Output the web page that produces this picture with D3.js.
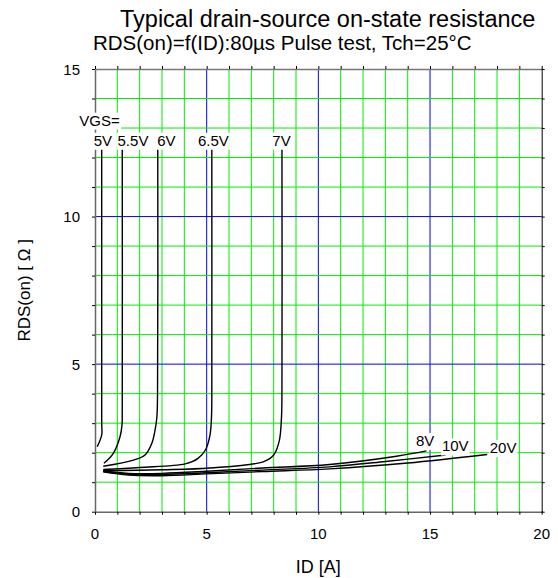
<!DOCTYPE html>
<html>
<head>
<meta charset="utf-8">
<script src="https://cdnjs.cloudflare.com/ajax/libs/d3/7.8.5/d3.min.js"></script>
<style>
  body { margin: 0; background: #fff; }
  text { font-family: "Liberation Sans", Arial, sans-serif; fill: #000; }
</style>
</head>
<body>
<svg id="chart" width="558" height="578"></svg>
<script>
// axis ranges / ticks
var xDomain = [0, 20];
var yDomain = [0, 15];
var xTickValues = [0, 5, 10, 15, 20];
var yTickValues = [0, 5, 10, 15];

// RDS(on) vs ID curves, one per VGS  [ID (A), RDS (ohm)]
var vgs5V   = [[0.1, 2.2], [0.3, 2.6], [0.3, 3.0], [0.3, 12.5]];
var vgs5_5V = [[0.4, 1.64], [0.82, 1.98], [1.12, 2.54], [1.21, 2.94], [1.22, 3.4], [1.22, 12.5]];
var vgs6V   = [[0.37, 1.54], [1.72, 1.75], [2.24, 1.92], [2.54, 2.31], [2.69, 2.77], [2.77, 3.2], [2.8, 4.0], [2.81, 12.5]];
var vgs6_5V = [[0.37, 1.43], [2.0, 1.5], [4.04, 1.62], [4.6, 1.8], [4.95, 2.1], [5.15, 2.6], [5.22, 3.3], [5.23, 4.2], [5.23, 12.5]];
var vgs7V   = [[0.37, 1.39], [3.0, 1.42], [5.15, 1.48], [7.53, 1.69], [8.0, 1.92], [8.25, 2.4], [8.35, 3.2], [8.37, 4.2], [8.37, 12.5]];
var vgs8V   = [[0.37, 1.38], [1.5, 1.3], [3.0, 1.3], [5.0, 1.37], [7.5, 1.48], [10.5, 1.6], [13.5, 1.88], [14.84, 2.06]];
var vgs10V  = [[0.37, 1.36], [1.5, 1.27], [3.0, 1.26], [5.0, 1.32], [7.5, 1.41], [10.5, 1.52], [13.0, 1.7], [15.7, 1.92]];
var vgs20V  = [[0.37, 1.35], [1.5, 1.24], [3.0, 1.22], [5.0, 1.28], [7.5, 1.36], [10.5, 1.45], [14.0, 1.65], [17.56, 1.94]];

var vgsNames = ['5V', '5.5V', '6V', '6.5V', '7V', '8V', '10V', '20V'];
var curves = [vgs5V, vgs5_5V, vgs6V, vgs6_5V, vgs7V, vgs8V, vgs10V, vgs20V];

var titleText = 'Typical drain-source on-state resistance';
var subtitleText = 'RDS(on)=f(ID):80\u00b5s Pulse test, Tch=25\u00b0C';
var xLabelText = 'ID [A]';
var yLabelText = 'RDS(on) [ \u03a9 ]';

// label placement (data coords) for each curve name
var labelAt = {
    '5V': [0.35, 12.4], '5.5V': [1.7, 12.4], '6V': [3.2, 12.4],
    '6.5V': [5.3, 12.4], '7V': [8.35, 12.4],
    '8V': [14.78, 2.23], '10V': [16.13, 2.04], '20V': [18.27, 1.98]
};

var svg = d3.select('#chart');
var pLeft = 95, pRight = 541.7, pTop = 69, pBottom = 511.7;

var x = d3.scaleLinear().domain(xDomain).range([pLeft, pRight]);
var y = d3.scaleLinear().domain(yDomain).range([pBottom, pTop]);

// grid
var xGrid = d3.range(xDomain[0] + 1, xDomain[1]);
var yGrid = d3.range(yDomain[0] + 1, yDomain[1]);
var g = svg.append('g');
g.selectAll('.vgrid').data(xGrid).enter().append('line')
    .attr('x1', function (d) { return x(d); }).attr('x2', function (d) { return x(d); })
    .attr('y1', pTop).attr('y2', pBottom)
    .attr('stroke', function (d) { return d % 5 === 0 ? '#0000ff' : '#00ee00'; })
    .attr('stroke-width', 1);
g.selectAll('.hgrid').data(yGrid).enter().append('line')
    .attr('y1', function (d) { return y(d); }).attr('y2', function (d) { return y(d); })
    .attr('x1', pLeft).attr('x2', pRight)
    .attr('stroke', function (d) { return d % 5 === 0 ? '#0000ff' : '#00ee00'; })
    .attr('stroke-width', 1);

// frame with small outward ticks on every grid line
var allX = d3.range(xDomain[0], xDomain[1] + 1);
var allY = d3.range(yDomain[0], yDomain[1] + 1);
svg.append('g').attr('transform', 'translate(0,' + pBottom + ')')
    .call(d3.axisBottom(x).tickValues(allX).tickSize(3).tickSizeOuter(0).tickFormat(''))
    .call(function (a) { a.select('.domain').attr('stroke', '#666').attr('stroke-width', 1.5); });
svg.append('g').attr('transform', 'translate(0,' + pTop + ')')
    .call(d3.axisTop(x).tickValues(allX).tickSize(3).tickSizeOuter(0).tickFormat(''))
    .call(function (a) { a.select('.domain').attr('stroke', '#777').attr('stroke-width', 1.5); });
svg.append('g').attr('transform', 'translate(' + pLeft + ',0)')
    .call(d3.axisLeft(y).tickValues(allY).tickSize(3).tickSizeOuter(0).tickFormat(''))
    .call(function (a) { a.select('.domain').attr('stroke', '#666').attr('stroke-width', 1.5); });
svg.append('g').attr('transform', 'translate(' + pRight + ',0)')
    .call(d3.axisRight(y).tickValues(allY).tickSize(3).tickSizeOuter(0).tickFormat(''))
    .call(function (a) { a.select('.domain').attr('stroke', '#000'); });

// tick labels
svg.selectAll('.xl').data(xTickValues).enter().append('text')
    .attr('x', function (d) { return x(d); }).attr('y', 539)
    .attr('text-anchor', 'middle').attr('font-size', 15)
    .text(function (d) { return d; });
svg.selectAll('.yl').data(yTickValues).enter().append('text')
    .attr('x', 80).attr('y', function (d) { return y(d) + 5.5; })
    .attr('text-anchor', 'end').attr('font-size', 15)
    .text(function (d) { return d; });

// curves
var line = d3.line()
    .x(function (d) { return x(d[0]); })
    .y(function (d) { return y(d[1]); })
    .curve(d3.curveCatmullRom.alpha(0.5));
svg.selectAll('.curve').data(curves).enter().append('path')
    .attr('d', line)
    .attr('fill', 'none')
    .attr('stroke', '#000')
    .attr('stroke-width', 1.4);

// curve labels with white backing
function boxedLabel(txt, px, py, anchor) {
    var t = svg.append('text').attr('x', px).attr('y', py)
        .attr('text-anchor', anchor || 'middle').attr('font-size', 15).text(txt);
    var b = t.node().getBBox();
    svg.insert('rect', function () { return t.node(); })
        .attr('x', b.x - 1).attr('y', b.y + 1).attr('width', b.width + 2).attr('height', b.height)
        .attr('fill', '#fff');
}
boxedLabel('VGS=', x(-0.7), y(13.08), 'start');
vgsNames.forEach(function (n) {
    boxedLabel(n, x(labelAt[n][0]), y(labelAt[n][1]));
});

// titles
svg.append('text').attr('x', 120).attr('y', 27).attr('font-size', 23.5).text(titleText);
svg.append('text').attr('x', 93).attr('y', 50).attr('font-size', 20.5).text(subtitleText);
svg.append('text').attr('x', (pLeft + pRight) / 2).attr('y', 573)
    .attr('text-anchor', 'middle').attr('font-size', 18).text(xLabelText);
svg.append('text')
    .attr('transform', 'translate(30,' + ((pTop + pBottom) / 2) + ') rotate(-90)')
    .attr('text-anchor', 'middle').attr('font-size', 17).text(yLabelText);
</script>
</body>
</html>
